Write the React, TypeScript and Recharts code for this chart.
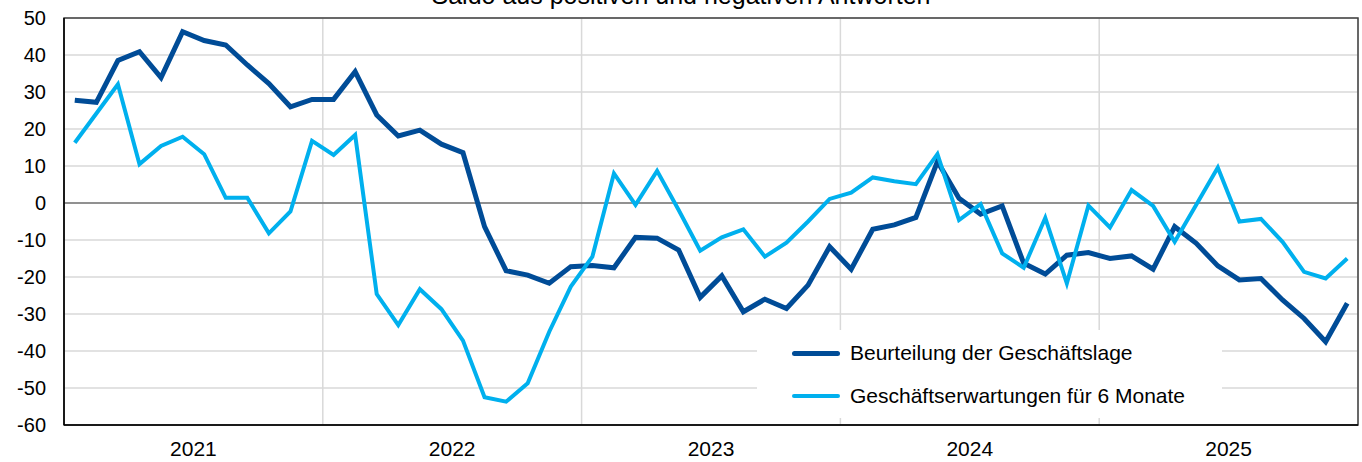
import React from "react";
import {
  LineChart,
  Line,
  XAxis,
  YAxis,
  CartesianGrid,
  ReferenceLine,
  ReferenceArea,
} from "recharts";

// Monthly balance values, Jan 2021 - Dec 2025
const years = ["2021", "2022", "2023", "2024", "2025"];

const lage = [
  27.8, 27.2, 38.5, 40.9, 33.9, 46.3, 43.9, 42.7, 37.3, 32.3, 26.0, 28.0,
  28.0, 35.5, 23.8, 18.1, 19.7, 15.9, 13.6, -6.4, -18.3, -19.5, -21.7, -17.2,
  -16.9, -17.5, -9.3, -9.5, -12.7, -25.5, -19.7, -29.4, -26.0, -28.5, -22.2, -11.8,
  -17.9, -7.1, -5.9, -3.9, 11.2, 1.3, -3.0, -0.8, -16.3, -19.2, -14.1, -13.4,
  -15.0, -14.3, -17.9, -6.4, -10.9, -17.0, -20.8, -20.4, -26.2, -31.2, -37.5, -27.1,
];

const erwartungen = [
  16.3, 24.2, 32.1, 10.5, 15.4, 17.9, 13.2, 1.4, 1.4, -8.2, -2.3, 16.8,
  13.0, 18.4, -24.6, -33.0, -23.3, -28.7, -37.2, -52.5, -53.7, -48.7, -34.8, -22.6,
  -14.5, 8.0, -0.5, 8.7, -1.9, -12.9, -9.3, -7.1, -14.5, -10.7, -5.0, 1.1,
  2.8, 6.9, 5.9, 5.1, 13.2, -4.6, -0.3, -13.6, -17.5, -4.0, -21.7, -0.7,
  -6.6, 3.5, -0.8, -10.5, -0.5, 9.6, -5.0, -4.3, -10.5, -18.6, -20.4, -15.0,
];

const yTicks = [50, 40, 30, 20, 10, 0, -10, -20, -30, -40, -50, -60];

const series = [
  { key: "lage", name: "Beurteilung der Geschäftslage", color: "#004C97", width: 5 },
  { key: "erwartungen", name: "Geschäftserwartungen für 6 Monate", color: "#00B0EE", width: 4 },
];

// points sit in the middle of each month
const data = lage.map((v, i) => ({ x: i + 0.5, lage: v, erwartungen: erwartungen[i] }));
const yearMid = years.map((_, i) => i * 12 + 6);
const yearEdges = years.slice(1).map((_, i) => (i + 1) * 12);

const font = "'Liberation Sans', Arial, sans-serif";

const App = () => {
  return (
    <div style={{ position: "absolute", left: 0, top: 0, width: 1362, height: 462, fontFamily: font, background: "#fff", overflow: "hidden" }}>
      {/* title, mostly cut off at the top */}
      <div style={{ position: "absolute", left: 0, width: 1362, top: -19, textAlign: "center", fontSize: 25, lineHeight: "28px", color: "#000" }}>
        Saldo aus positiven und negativen Antworten
      </div>

      <LineChart width={1362} height={462} data={data} margin={{ top: 18, right: 4, left: 0, bottom: 0 }}>
        <CartesianGrid xAxisId="grid" stroke="#d9d9d9" strokeWidth={1.5} />
        <XAxis
          dataKey="x"
          type="number"
          domain={[0, 60]}
          ticks={yearMid}
          tickFormatter={(v: number) => years[Math.round((v - 6) / 12)]}
          tick={{ fontSize: 21, fill: "#000", fontFamily: font }}
          tickLine={false}
          axisLine={{ stroke: "#000", strokeWidth: 1.5 }}
          tickMargin={10}
          height={37}
          interval={0}
        />
        <XAxis xAxisId="grid" dataKey="x" type="number" domain={[0, 60]} ticks={yearEdges} hide />
        <YAxis
          domain={[-60, 50]}
          ticks={yTicks}
          interval={0}
          tick={{ fontSize: 20, fill: "#000", fontFamily: font }}
          tickLine={false}
          axisLine={{ stroke: "#000", strokeWidth: 1.5 }}
          tickMargin={12}
          width={64}
        />
        <ReferenceArea x1={0} x2={60} y1={-60} y2={50} fill="none" stroke="#404040" strokeWidth={1.5} />
        <ReferenceLine y={0} stroke="#404040" strokeWidth={1.2} />
        {series.map((s) => (
          <Line
            key={s.key}
            type="linear"
            dataKey={s.key}
            name={s.name}
            stroke={s.color}
            strokeWidth={s.width}
            dot={false}
            isAnimationActive={false}
          />
        ))}
      </LineChart>

      {/* legend box sits over the gridlines */}
      <div style={{ position: "absolute", left: 757, top: 330, width: 465, height: 88, background: "#fff" }}>
        {series.map((s, i) => (
          <div key={s.key} style={{ position: "absolute", left: 35, top: 10 + i * 43, height: 26, display: "flex", alignItems: "center" }}>
            <div style={{ width: 48, height: s.width, background: s.color, borderRadius: 3 }} />
            <span style={{ marginLeft: 10, fontSize: 21, color: "#000", whiteSpace: "nowrap" }}>{s.name}</span>
          </div>
        ))}
      </div>
    </div>
  );
};

export default App;
